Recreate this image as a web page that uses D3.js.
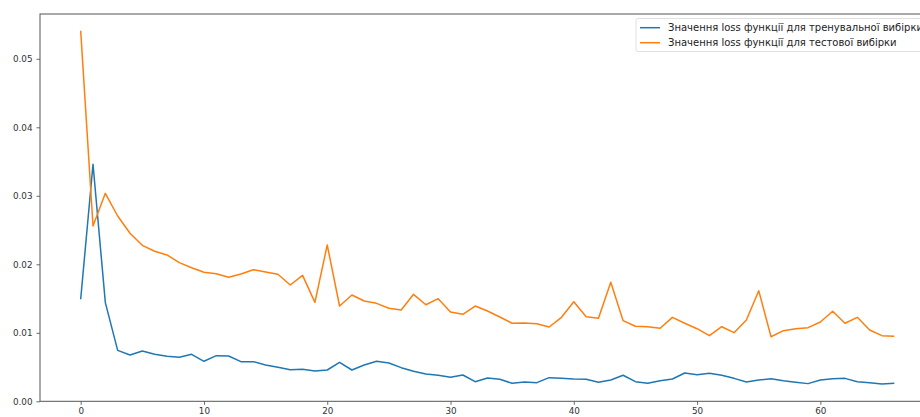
<!DOCTYPE html>
<html>
<head>
<meta charset="utf-8">
<script src="https://cdnjs.cloudflare.com/ajax/libs/d3/7.8.5/d3.min.js"></script>
<style>
  body { margin: 0; background: #fff; overflow: hidden; }
  svg { display: block; font-family: "DejaVu Sans", sans-serif; }
</style>
</head>
<body>
<svg id="chart" width="920" height="417"></svg>
<script>
'use strict';

// loss per epoch
var trainLoss = [
  0.0149, 0.0346, 0.0144, 0.00744, 0.00676, 0.00734, 0.00686, 0.00657, 0.00642, 0.00686,
  0.00584, 0.00666, 0.00662, 0.00579, 0.00579, 0.0053, 0.00496, 0.00462, 0.00467, 0.00442,
  0.00457, 0.00569, 0.00457, 0.0053, 0.00584, 0.00559, 0.00491, 0.00438, 0.00399, 0.0038,
  0.0035, 0.00384, 0.00286, 0.0034, 0.00321, 0.00263, 0.00282, 0.00272, 0.00345, 0.00335,
  0.00326, 0.00321, 0.00277, 0.00311, 0.0038, 0.00286, 0.00263, 0.003, 0.00326, 0.00413,
  0.00389, 0.00409, 0.0038, 0.00335, 0.00282, 0.00311, 0.0033, 0.003, 0.00277, 0.00258,
  0.00311, 0.0033, 0.00335, 0.00286, 0.00272, 0.00253, 0.00263
];
var testLoss = [
  0.0541, 0.0256, 0.03036, 0.02705, 0.02453, 0.02277, 0.0219, 0.02136, 0.02024, 0.0195,
  0.01883, 0.01863, 0.0181, 0.01858, 0.01921, 0.01888, 0.01854, 0.01698, 0.01839, 0.01445,
  0.02282, 0.01391, 0.01552, 0.01464, 0.0143, 0.01358, 0.01333, 0.01562, 0.0141, 0.01498,
  0.01304, 0.0127, 0.01391, 0.01318, 0.01231, 0.01139, 0.01144, 0.01133, 0.01085, 0.01226,
  0.01454, 0.01235, 0.01212, 0.01737, 0.01177, 0.01095, 0.0109, 0.01066, 0.01226, 0.01139,
  0.0106, 0.00958, 0.01089, 0.01002, 0.01187, 0.01615, 0.00943, 0.01031, 0.0106, 0.01075,
  0.01158, 0.01314, 0.01139, 0.01226, 0.01041, 0.00958, 0.00949
];
var seriesNames = [
  'Значення loss функції для тренувальної вибірки',
  'Значення loss функції для тестової вибірки'
];
var seriesColors = ['#1f77b4', '#ff7f0e'];
var xTicks = [0, 10, 20, 30, 40, 50, 60];
var yTicks = [0, 0.01, 0.02, 0.03, 0.04, 0.05];

function drawChart() {
  var svg = d3.select('#chart');
  var left = 40, top = 14, right = 935, bottom = 401.3;

  var x = d3.scaleLinear().domain([-3.3, 69.3]).range([left, right]);
  var y = d3.scaleLinear().domain([0, 0.05654]).range([bottom, top]);

  var line = d3.line()
    .x(function(d, i) { return x(i); })
    .y(function(d) { return y(d); });

  var plot = svg.append('g');
  [trainLoss, testLoss].forEach(function(values, k) {
    plot.append('path')
      .datum(values)
      .attr('fill', 'none')
      .attr('stroke', seriesColors[k])
      .attr('stroke-width', 1.5)
      .attr('stroke-linejoin', 'round')
      .attr('d', line);
  });

  var xAxis = svg.append('g')
    .attr('transform', 'translate(0,' + bottom + ')')
    .call(d3.axisBottom(x).tickValues(xTicks).tickSize(3.5).tickPadding(3).tickFormat(d3.format('d')));
  var yAxis = svg.append('g')
    .attr('transform', 'translate(' + left + ',0)')
    .call(d3.axisLeft(y).tickValues(yTicks).tickSize(3.5).tickPadding(4).tickFormat(d3.format('.2f')));

  [xAxis, yAxis].forEach(function(ax) {
    ax.select('.domain').remove();
    ax.selectAll('line').attr('stroke', '#444').attr('stroke-width', 0.8);
    ax.selectAll('text').attr('fill', '#333').style('font-size', '8.8px').style('font-family', 'DejaVu Sans');
  });

  // spines
  svg.append('rect')
    .attr('x', left).attr('y', top)
    .attr('width', right - left).attr('height', bottom - top)
    .attr('fill', 'none')
    .attr('stroke', '#555')
    .attr('stroke-width', 1);

  // legend
  var legend = svg.append('g').attr('transform', 'translate(636,18.5)');
  legend.append('rect')
    .attr('width', 300).attr('height', 33)
    .attr('rx', 2)
    .attr('fill', '#fff').attr('fill-opacity', 0.8)
    .attr('stroke', '#d8d8d8').attr('stroke-width', 0.8);
  seriesNames.forEach(function(name, k) {
    var row = legend.append('g').attr('transform', 'translate(0,' + (9.2 + k * 15) + ')');
    row.append('line')
      .attr('x1', 4).attr('x2', 24)
      .attr('stroke', seriesColors[k]).attr('stroke-width', 1.5);
    row.append('text')
      .attr('x', 32).attr('dy', '0.35em')
      .attr('fill', '#222')
      .style('font-size', '10px')
      .text(name);
  });
}

drawChart();
</script>
</body>
</html>
